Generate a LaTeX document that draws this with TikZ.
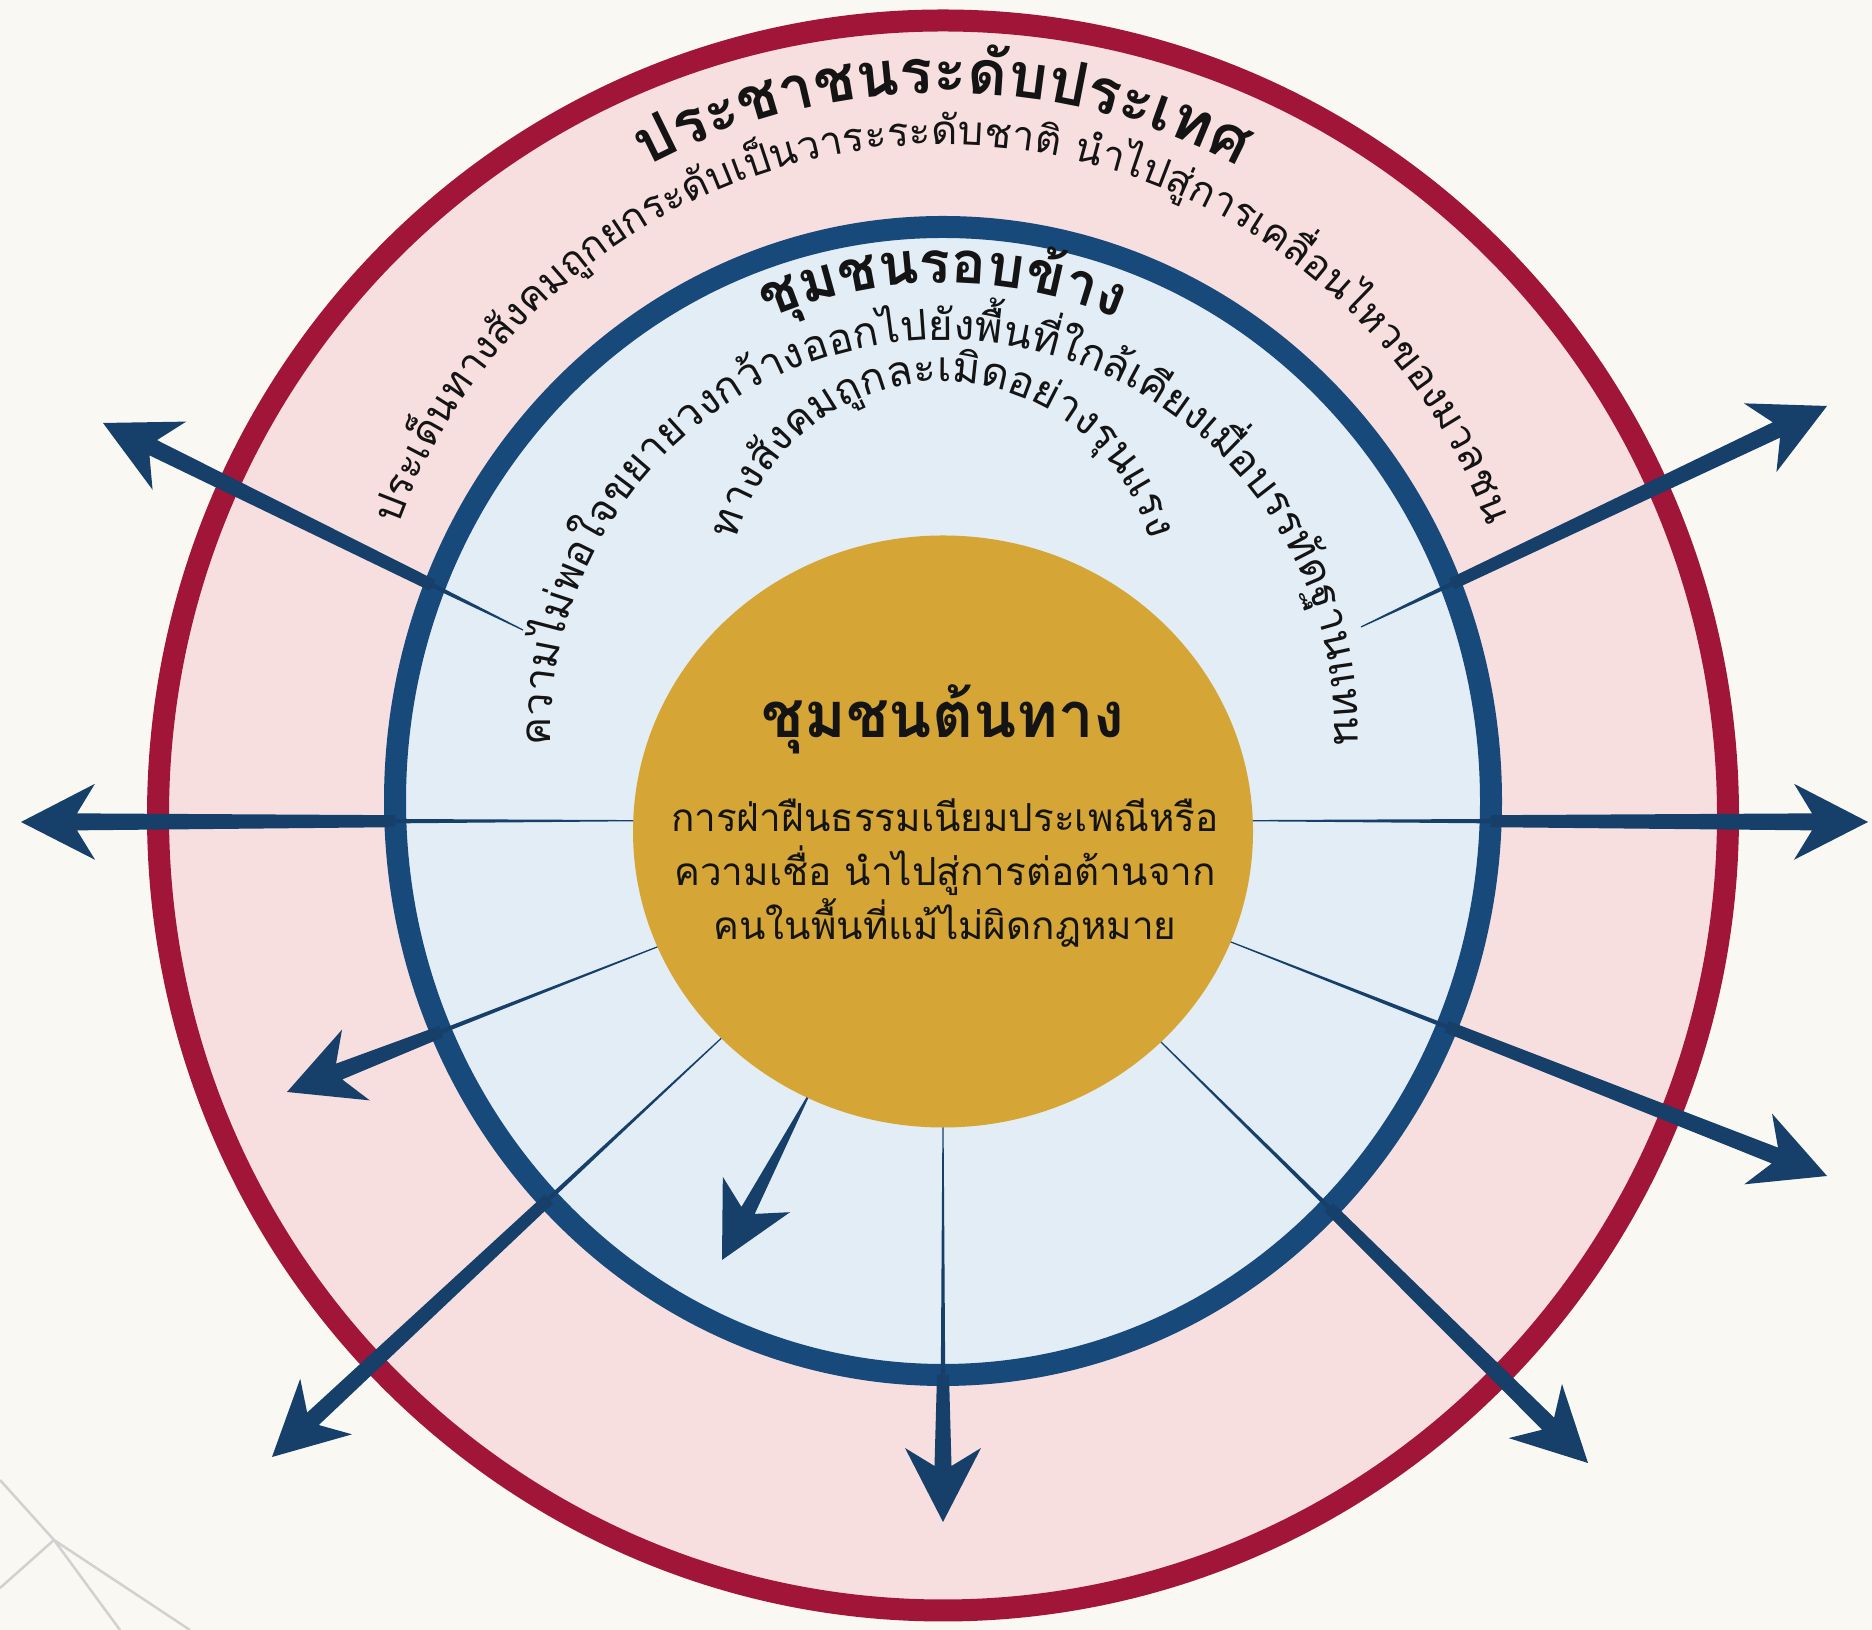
\documentclass[tikz,border=0pt]{standalone}
\usepackage{fontspec}
\newfontfamily\thaifont[Script=Thai]{Loma}
\usetikzlibrary{shapes.geometric, calc, decorations.text}

\definecolor{paper}{HTML}{F9F8F2}
\definecolor{ringred}{HTML}{A11539}
\definecolor{ringpink}{HTML}{F7DFE0}
\definecolor{ringblue}{HTML}{18497B}
\definecolor{skyfill}{HTML}{E2EDF6}
\definecolor{goldfill}{HTML}{D5A536}
\definecolor{spokeblue}{HTML}{163F69}
\definecolor{ink}{HTML}{141414}

\newcommand\ttlfont{\thaifont\bfseries\fontsize{17.5}{20}\selectfont}
\newcommand\ringttlfont{\thaifont\bfseries\fontsize{16.5}{20}\selectfont}
\newcommand\subfont{\thaifont\fontsize{11.5}{14}\selectfont}
\newcommand\midfont{\thaifont\fontsize{12}{15}\selectfont}
\newcommand\spoke[2]{%
  \path ($(#2)!7.4mm!(#1)$) coordinate (barb) ($(#2)!5.6mm!(#1)$) coordinate (neck);
  \fill[spokeblue] ($(#1)!0.1mm!90:(#2)$) -- ($(neck)!0.75mm!90:(#2)$)
    -- ($(barb)!3.8mm!90:(#2)$) -- (#2) -- ($(barb)!3.8mm!-90:(#2)$)
    -- ($(neck)!0.75mm!-90:(#2)$) -- ($(#1)!0.1mm!-90:(#2)$) -- cycle;
}
\newcommand\longspoke[3]{%
  \path ($(#1)!(nearby.#3)!(#2)$) coordinate (ringcut)
    ($(#2)!7.4mm!(#1)$) coordinate (barb) ($(#2)!5.6mm!(#1)$) coordinate (neck);
  \fill[spokeblue] ($(#1)!0.06mm!90:(#2)$) -- ($(ringcut)!0.22mm!90:(#2)$)
    -- ($(ringcut)!0.6mm!90:(#2)$) -- ($(neck)!0.85mm!90:(#2)$)
    -- ($(barb)!3.8mm!90:(#2)$) -- (#2) -- ($(barb)!3.8mm!-90:(#2)$)
    -- ($(neck)!0.85mm!-90:(#2)$) -- ($(ringcut)!0.6mm!-90:(#2)$)
    -- ($(ringcut)!0.22mm!-90:(#2)$) -- ($(#1)!0.06mm!-90:(#2)$) -- cycle;
}

\begin{document}
\begin{tikzpicture}[x=0.1mm, y=0.1mm,
  ring/.style={ellipse, line width=2.2mm, inner sep=0pt, outer sep=0pt},
  arctext/.style={decorate, decoration={text along path, text align=center, text color=ink, text={#1}}}]
	\path[fill=paper, use as bounding box] (0,0) rectangle (1872,1630);
	\draw[black!18, line width=0.25mm] (0,150) -- (54,90) -- (0,42) (54,90) -- (120,0) (54,90) -- (190,0);
	
	\node[ring, draw=ringred, fill=ringpink, minimum width=157mm, minimum height=159mm] (nation) at (943,814.5) {};
	\node[ring, draw=ringblue, fill=skyfill, minimum width=109.6mm, minimum height=114.8mm] (nearby) at (943,829) {};
	\node[ellipse, fill=goldfill, inner sep=0pt, outer sep=0pt, minimum width=62mm, minimum height=59.2mm] (origin) at (943,798.5) {};
	
	\coordinate (root1) at (523,1000);
	\coordinate (tip1) at (103,1207);
	\coordinate (root2) at (1361,1003);
	\coordinate (tip2) at (1827,1224);
	\longspoke{root1}{tip1}{152}
	\longspoke{root2}{tip2}{28}
	\foreach \i/\a/\tx/\ty in {3/178/21/808, 4/2/1868/808, 5/202/287/538, 6/339/1827/454,
	  7/223/272/173, 9/270/943/108, 10/316/1588/167}{
		\coordinate (tip\i) at (\tx,\ty);
		\longspoke{origin.\a}{tip\i}{\a}
	}
	\coordinate (tip8) at (722,370);
	\spoke{origin.243}{tip8}
	
	\path[arctext={|\ttlfont|ประชาชนระ{ดั}บประเทศ}] (943,905) ++(125:632) arc[start angle=125, end angle=55, radius=632];
	\path[arctext={|\subfont|ประเ{ด็}นทาง{สั}งคม{ถู}กยกระ{ดั}บเ{ป็}นวาระระ{ดั}บชา{ติ} {นำ}ไป{สู่}การเค{ลื่}อนไหวของมวลชน}] (943,905) ++(164:580) arc[start angle=164, end angle=16, radius=580];
	\path[arctext={|\ringttlfont|{ชุ}มชนรอบ{ข้}าง}] (943,898) ++(120:449) arc[start angle=120, end angle=60, radius=449];
	\path[arctext={|\midfont|ความไ{ม่}พอใจขยายวงก{ว้}างออกไป{ยั}ง{พื้}น{ที่}ใก{ล้}เ{คี}ยงเ{มื่}อบรร{ทั}ดฐานแทน}] (943,898) ++(188:392) arc[start angle=188, end angle=-8, radius=392];
	\path[arctext={|\midfont|ทาง{สั}งคม{ถู}กละเ{มิ}ดอ{ย่}าง{รุ}นแรง}] (943,1034) ++(186:214) arc[start angle=186, end angle=-6, radius=214];
	
	\node[anchor=base, text=ink, font=\thaifont\bfseries\fontsize{18}{22}\selectfont] (origin-title) at (943,892) {ชุมชนต้นทาง};
	\node[text=ink, align=center, font=\thaifont\fontsize{11}{15.4}\selectfont] (origin-text) at (945,757) {การฝ่าฝืนธรรมเนียมประเพณีหรือ\\ความเชื่อ นำไปสู่การต่อต้านจาก\\คนในพื้นที่แม้ไม่ผิดกฎหมาย};
\end{tikzpicture}
\end{document}
